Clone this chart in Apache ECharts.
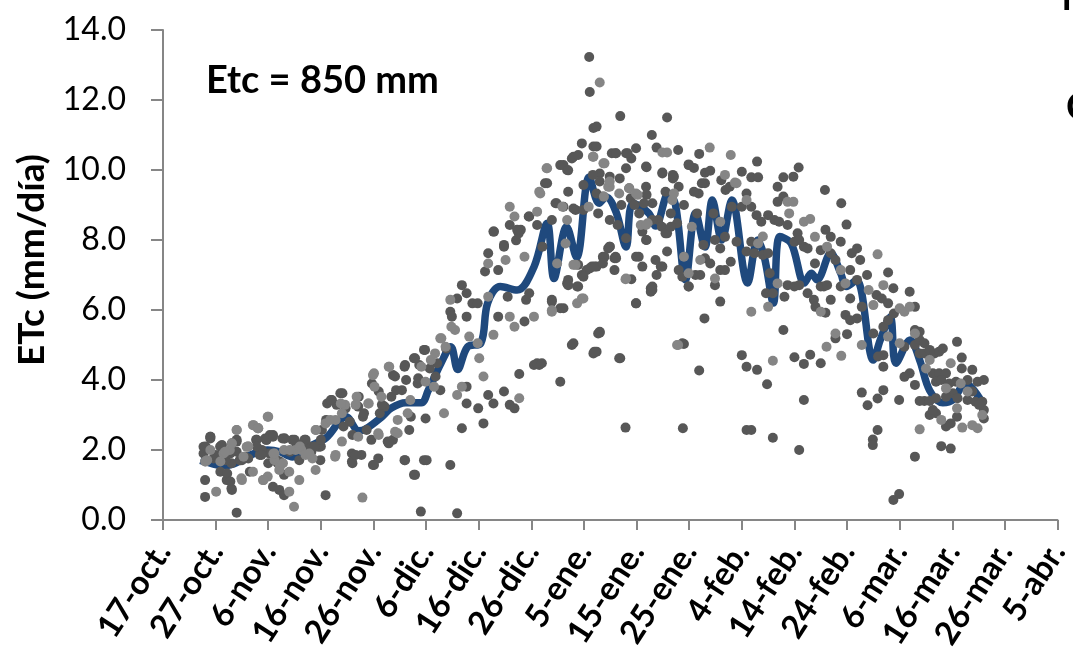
<!DOCTYPE html>
<html>
<head>
<meta charset="utf-8">
<title>ETc</title>
<script src="https://cdn.jsdelivr.net/npm/echarts@6/dist/echarts.min.js"></script>
<style>
html, body { margin: 0; padding: 0; background: #fff; }
#chart { width: 1073px; height: 657px; }
</style>
</head>
<body>
<div id="chart"></div>
<script>
// dia 0 = 17-oct., un tick cada 10 dias
var tickLabels = ["17-oct.", "27-oct.", "6-nov.", "16-nov.", "26-nov.", "6-dic.", "16-dic.", "26-dic.", "5-ene.",
    "15-ene.", "25-ene.", "4-feb.", "14-feb.", "24-feb.", "6-mar.", "16-mar.", "26-mar.", "5-abr."];

// ETc media (linea azul) [dia, mm/dia]
var meanEtc = [[7.1, 1.7], [9.6, 1.6], [11.3, 1.55], [13.4, 1.6], [16.5, 1.85], [19.9, 2.0], [22.2, 1.95], [24.6, 1.8],
    [27.8, 2.1], [31.0, 2.35], [34.8, 2.95], [37.2, 2.55], [38.5, 2.6], [41.6, 2.95], [43.4, 3.2], [46.1, 3.35],
    [49.1, 3.35], [50.4, 3.7], [52.8, 4.47], [54.7, 4.95], [56.0, 4.3], [57.9, 4.95], [60.4, 5.05], [61.7, 6.2],
    [64.1, 6.67], [67.3, 6.57], [70.5, 7.23], [73.0, 8.48], [74.3, 6.9], [76.7, 8.38], [78.6, 7.5], [81.0, 9.8],
    [82.9, 9.05], [84.2, 9.23], [86.1, 8.8], [88.0, 7.8], [89.3, 9.05], [92.3, 8.77], [93.6, 8.4], [96.1, 9.34],
    [97.4, 9.0], [99.3, 6.86], [101.2, 8.77], [103.0, 7.8], [104.4, 9.14], [106.2, 8.0], [108.1, 9.14], [111.1, 6.77],
    [113.0, 8.0], [114.3, 7.5], [116.0, 6.2], [117.2, 8.1], [119.4, 7.9], [121.9, 6.77], [123.2, 7.05], [124.3, 6.86],
    [126.9, 7.62], [128.8, 7.05], [129.9, 6.67], [131.8, 6.86], [135.0, 4.57], [136.3, 5.14], [138.2, 5.8], [139.3, 4.48],
    [142.0, 5.14], [143.8, 4.57], [145.7, 3.7], [148.2, 3.35], [150.1, 3.43], [152.5, 3.9], [155.7, 3.35]];

// ETc diaria, serie gris claro
var lightEtc = [[10.1, 0.81], [14.9, 1.19], [8.0, 1.67], [9.0, 2.0], [10.9, 1.67], [12.7, 2.0], [14.0, 2.57], [15.9, 2.09],
    [17.1, 2.71], [18.0, 2.62], [17.1, 1.38], [19.0, 1.14], [19.9, 1.24], [19.9, 2.95], [21.2, 1.71], [24.0, 0.81],
    [22.1, 1.43], [24.0, 1.38], [23.0, 2.0], [24.9, 0.38], [25.9, 1.14], [25.2, 2.0], [27.1, 1.86], [28.4, 1.76],
    [29.0, 1.43], [29.0, 2.57], [30.9, 2.76], [31.8, 2.86], [32.7, 1.81], [34.0, 3.05], [34.6, 3.29], [34.0, 2.24],
    [36.8, 3.52], [37.1, 2.38], [37.9, 0.64], [39.0, 3.33], [39.9, 4.14], [40.2, 3.81], [40.9, 2.48], [41.5, 3.52],
    [43.0, 4.38], [44.6, 2.86], [44.6, 2.48], [46.5, 3.05], [49.9, 3.95], [50.9, 4.57], [51.5, 3.81], [52.7, 5.19],
    [53.4, 3.05], [53.7, 4.95], [54.6, 6.29], [55.5, 5.43], [55.9, 3.57], [56.8, 3.81], [58.2, 5.24], [59.8, 5.05],
    [60.1, 4.62], [60.9, 4.1], [61.8, 7.33], [61.8, 6.38], [62.8, 5.29], [65.1, 7.43], [65.9, 8.95], [65.9, 5.81],
    [66.8, 5.52], [66.8, 8.67], [67.7, 3.48], [68.7, 7.52], [70.5, 5.81], [71.1, 8.81], [71.5, 9.38], [72.9, 10.05],
    [73.9, 5.99], [74.9, 7.33], [75.9, 8.95], [76.5, 7.9], [76.8, 8.57], [78.4, 7.29], [78.7, 6.19], [79.6, 6.33],
    [80.9, 8.95], [81.8, 10.38], [83.7, 10.19], [84.6, 9.52],
    [83.0, 12.5], [94.9, 10.5], [95.8, 10.5], [103.9, 10.64], [107.9, 10.43], [106.8, 9.86], [108.7, 9.64], [83.9, 10.19],
    [84.9, 9.52], [83.8, 9.24], [88.6, 9.48], [90.2, 9.29], [90.8, 8.43], [92.1, 8.48], [96.8, 9.14], [87.9, 6.88],
    [99.9, 7.05], [99.0, 7.52], [100.5, 8.38], [102.1, 7.43], [105.9, 8.52], [104.9, 6.9], [97.9, 5.0], [109.0, 9.62],
    [110.9, 9.14], [111.8, 5.95], [113.1, 7.9], [114.0, 8.1], [115.0, 6.09], [116.8, 6.76], [115.9, 4.55], [118.7, 9.09],
    [119.8, 9.09], [119.0, 8.76], [121.8, 8.52], [123.0, 8.6], [123.9, 8.09], [126.2, 7.81], [128.8, 7.14], [125.0, 5.95],
    [129.7, 6.76], [134.1, 6.57], [135.8, 7.59], [136.9, 6.71], [135.0, 6.14], [132.8, 5.0], [127.8, 5.33], [126.1, 4.95],
    [128.9, 4.69], [137.8, 5.24], [140.0, 6.05], [140.9, 5.95], [141.9, 6.09], [140.0, 5.05], [142.9, 5.33], [145.7, 4.57],
    [145.0, 4.33], [149.7, 4.48], [151.6, 3.9], [152.9, 3.67], [148.8, 3.76], [155.7, 3.0], [153.8, 2.71], [154.8, 2.62],
    [151.9, 2.64], [150.9, 3.19], [147.9, 2.86], [143.8, 2.59],
    [81.7, 10.38], [73.0, 10.05], [71.7, 9.33], [86.7, 9.33], [89.9, 9.33], [97.1, 9.33], [84.9, 9.67], [91.8, 8.43],
    [88.0, 6.9], [97.7, 5.0], [73.9, 5.95], [78.0, 7.29], [79.9, 6.33],
    [8.4, 1.71], [11.5, 1.9], [14.0, 2.57], [15.3, 1.81], [16.2, 2.1], [17.2, 2.71], [18.1, 2.62], [20.0, 2.95],
    [21.0, 1.9], [22.2, 1.52], [26.3, 2.0], [29.1, 2.57], [32.8, 2.86], [33.8, 3.33], [36.6, 3.29], [39.1, 3.33],
    [40.1, 4.19], [42.9, 4.38], [47.0, 3.43], [49.1, 4.38], [51.7, 4.76], [52.9, 5.19], [54.8, 5.52], [41.0, 2.43],
    [44.1, 2.52], [32.8, 1.86],
    [8.1, 1.67], [11.8, 1.95], [13.1, 2.19], [16.2, 2.1], [18.1, 2.62], [21.2, 1.9], [24.1, 2.0], [26.0, 2.1],
    [27.8, 1.9], [22.8, 1.62], [15.0, 1.14], [19.1, 1.14]];

// ETc diaria, serie gris oscuro
var darkEtc = [[8.0, 0.66], [14.0, 0.21], [8.0, 1.14], [13.0, 0.90], [12.1, 1.14], [10.9, 1.38], [9.0, 2.38], [7.7, 2.09],
    [7.7, 1.9], [9.6, 1.76], [11.2, 2.14], [12.1, 1.9], [13.0, 1.62], [14.0, 2.24], [14.6, 1.71], [16.2, 1.76],
    [17.7, 2.29], [18.4, 1.86], [19.6, 2.29], [20.2, 1.9], [20.9, 2.43], [20.9, 0.95], [22.1, 0.86], [23.0, 0.71],
    [23.0, 1.29], [21.8, 1.62], [22.7, 2.33], [24.6, 2.29], [25.9, 1.71], [27.1, 2.29], [28.0, 2.09], [29.6, 2.09],
    [29.9, 1.71], [30.2, 2.57], [30.9, 0.71], [31.2, 3.33], [32.1, 3.43], [33.0, 3.29], [33.7, 3.62], [34.3, 2.67],
    [35.5, 2.81], [35.9, 1.9], [35.9, 1.67], [37.1, 3.24], [37.7, 1.86], [38.0, 2.95], [38.7, 2.57], [39.6, 2.29],
    [39.9, 1.57], [40.9, 1.76], [41.2, 3.05], [42.1, 3.24], [42.7, 2.24], [43.7, 4.14], [43.7, 2.29], [43.4, 3.52],
    [44.3, 3.71], [45.9, 4.38], [45.9, 1.71], [46.2, 4.0], [46.8, 2.57], [47.1, 2.95], [47.7, 4.62], [47.7, 1.29],
    [48.4, 3.9], [49.0, 0.24], [48.7, 4.43], [49.6, 4.86], [49.6, 1.71], [49.9, 2.9], [51.8, 4.1], [52.1, 4.48],
    [52.7, 3.71], [54.6, 5.95], [54.9, 5.81], [54.6, 1.57], [55.9, 6.33], [55.9, 0.19], [56.8, 2.62], [56.8, 6.71],
    [57.7, 6.48], [57.7, 5.81], [57.7, 3.81], [57.7, 3.33], [58.8, 6.19], [59.8, 6.19], [59.9, 3.19], [60.9, 2.76],
    [61.2, 7.1], [61.8, 7.62], [61.8, 3.57], [62.8, 8.24], [62.8, 3.33], [63.7, 5.81], [63.7, 7.14], [64.8, 7.86],
    [64.8, 3.67], [65.5, 6.38], [65.9, 8.43], [65.9, 3.29], [66.8, 3.19], [67.1, 7.99], [67.7, 4.17], [68.0, 8.29],
    [69.0, 6.29], [68.7, 5.67], [69.6, 8.67], [69.6, 6.48], [70.5, 4.43], [71.5, 4.43], [71.1, 8.43], [72.6, 9.62],
    [72.1, 7.81], [73.9, 6.29], [73.9, 8.57], [74.6, 9.05], [75.5, 10.14], [75.5, 6.05], [75.5, 3.95], [76.8, 10.0],
    [76.8, 6.76], [77.7, 5.0], [77.7, 10.33], [78.4, 8.86], [78.7, 6.67], [79.6, 10.76], [79.6, 7.0], [80.5, 7.14],
    [81.5, 7.24], [81.8, 10.67], [81.8, 4.76], [82.7, 8.76], [82.7, 5.33], [83.7, 7.48], [84.6, 7.76], [85.3, 10.48],
    [85.8, 7.48], [81.0, 13.23], [81.1, 12.23], [81.8, 11.2],
    [86.9, 11.54], [95.8, 11.5], [92.9, 11.0], [82.4, 11.24], [82.4, 10.67], [89.9, 10.62], [93.8, 10.64], [97.9, 10.57],
    [101.9, 10.46], [86.0, 10.48], [88.0, 10.48], [89.0, 10.33], [88.0, 10.05], [91.9, 10.08], [94.9, 9.93], [96.9, 9.86],
    [96.9, 9.76], [99.9, 10.16], [100.9, 10.06], [103.0, 9.92], [104.0, 9.98], [112.9, 10.24], [110.0, 9.95], [111.8, 9.79],
    [113.1, 9.79], [106.1, 9.71], [107.7, 9.52], [106.9, 9.43], [120.8, 10.07], [119.8, 9.81], [117.9, 9.79], [116.8, 9.52],
    [125.8, 9.43], [128.9, 9.05], [129.9, 8.44], [82.4, 9.33], [83.0, 9.9], [84.9, 9.81], [83.6, 9.24], [87.1, 9.0],
    [86.8, 9.76], [88.9, 9.19], [91.8, 9.52], [91.9, 9.29], [93.0, 9.05], [90.5, 8.76], [91.1, 8.24], [91.9, 8.0],
    [94.1, 8.57], [94.8, 8.38], [95.8, 8.19], [96.5, 8.76], [98.0, 9.52], [99.0, 9.0], [97.7, 8.48], [95.8, 7.67],
    [94.6, 7.24], [93.8, 7.0], [92.7, 6.62], [92.7, 6.52], [89.0, 6.88], [89.9, 6.19], [90.4, 7.52], [91.1, 7.24],
    [86.0, 7.52], [85.8, 7.14], [83.6, 7.52], [84.9, 7.81], [82.4, 7.24], [83.0, 5.35], [82.4, 4.81], [86.9, 4.62],
    [87.9, 2.64], [98.0, 7.14], [99.9, 6.67], [101.2, 7.0], [102.1, 7.0], [101.5, 8.76], [101.8, 9.33], [103.0, 9.62],
    [103.0, 7.48], [104.0, 7.33], [102.7, 7.86], [104.9, 8.0], [104.6, 8.76], [105.9, 7.76], [104.9, 6.71], [105.9, 7.14],
    [106.8, 7.14], [105.9, 6.24], [102.9, 5.76], [99.0, 5.03], [101.9, 4.27], [98.8, 2.62], [106.8, 8.09], [108.1, 8.95],
    [109.0, 7.95], [107.9, 7.38], [110.0, 8.95], [110.9, 9.33], [111.8, 8.95], [110.9, 7.67], [111.8, 7.95], [112.8, 8.71],
    [110.0, 4.71], [110.9, 4.38], [112.9, 4.29], [110.9, 2.57], [111.8, 2.57], [112.4, 7.62], [113.7, 8.52], [115.0, 8.71],
    [116.2, 8.57], [117.1, 8.52], [114.0, 7.57], [115.0, 7.62], [115.3, 7.05], [114.6, 6.48], [115.9, 6.48], [118.1, 6.38],
    [117.9, 5.43], [114.8, 3.88], [115.9, 2.35], [116.8, 9.09], [117.9, 9.24], [118.7, 8.43], [120.6, 8.19], [120.0, 7.95],
    [120.9, 8.0], [121.8, 7.81], [122.5, 7.76], [118.7, 6.71], [120.0, 6.67], [120.9, 6.71], [122.5, 6.48], [123.9, 7.33],
    [125.0, 7.71], [125.9, 8.29], [126.9, 8.09], [126.9, 7.62], [128.8, 7.95], [127.8, 7.43], [125.0, 6.67], [125.6, 6.67],
    [126.2, 6.71], [123.7, 6.29], [124.0, 6.09], [125.9, 5.92], [126.9, 6.29], [128.8, 6.67], [130.6, 7.14], [130.9, 7.62],
    [131.9, 7.76], [132.5, 7.43], [131.9, 6.86], [130.6, 6.33], [129.7, 5.86], [130.6, 5.71], [131.9, 5.76], [132.8, 6.09],
    [133.8, 7.0], [135.6, 6.43], [136.6, 6.33], [137.8, 7.07], [138.8, 6.62], [137.8, 6.19], [127.8, 5.19], [130.0, 5.31],
    [125.0, 4.48], [123.0, 4.72], [121.8, 4.46], [120.0, 4.65], [121.8, 3.43], [120.9, 2.0], [132.8, 3.64], [133.9, 3.28],
    [135.8, 3.47], [136.9, 3.71], [135.8, 2.57], [134.9, 2.3], [134.9, 2.14], [138.8, 0.57], [139.9, 0.74], [139.9, 3.43],
    [142.9, 1.81], [135.0, 5.33], [136.9, 5.52], [136.9, 4.71], [136.9, 4.38], [135.9, 4.67], [137.8, 5.71], [138.9, 5.9],
    [142.9, 6.09], [141.9, 6.52], [140.9, 4.95], [142.9, 5.43], [143.8, 5.38], [142.9, 5.0], [143.8, 5.14], [144.7, 5.05],
    [143.8, 4.76], [144.7, 4.76], [145.7, 4.86], [146.6, 4.76], [147.5, 4.81], [148.2, 4.9], [146.3, 4.19], [147.5, 4.19],
    [148.8, 4.19], [146.9, 3.95], [147.9, 4.0], [150.9, 5.09], [151.8, 4.64], [151.8, 4.33], [152.9, 4.0], [153.8, 4.29],
    [154.8, 3.95], [156.0, 4.0], [149.4, 3.9], [150.7, 3.95], [150.1, 3.62], [151.0, 3.48], [152.9, 3.43], [153.8, 3.67],
    [154.4, 3.38], [155.7, 3.38], [156.0, 3.14], [155.1, 3.29], [156.0, 2.9], [150.9, 2.95], [149.7, 2.76], [148.8, 2.67],
    [146.9, 3.05], [145.7, 3.0], [146.3, 3.14], [144.7, 3.4], [143.8, 3.4], [145.7, 3.4], [147.9, 2.11], [149.7, 2.04],
    [146.9, 3.48], [148.8, 3.52], [142.9, 3.86], [141.9, 4.19], [140.9, 4.09],
    [78.0, 10.38], [78.9, 10.43], [86.1, 10.48], [88.3, 10.48], [76.1, 10.14], [77.0, 9.99], [81.7, 9.86], [83.0, 9.67],
    [79.9, 9.57], [77.0, 9.38], [73.0, 9.62], [74.8, 9.05], [76.1, 8.95], [78.0, 8.9], [79.9, 8.86], [88.6, 9.48],
    [89.6, 9.0], [91.4, 9.05], [91.8, 10.1], [94.9, 9.9], [97.1, 9.81], [95.5, 9.38], [99.9, 10.14], [100.9, 9.38],
    [102.4, 9.62], [62.9, 8.24], [64.8, 7.81], [67.6, 8.19], [69.5, 8.67], [67.3, 8.29], [84.9, 8.57], [86.4, 8.43],
    [88.0, 8.05], [93.0, 8.57], [95.5, 8.19], [96.5, 8.38], [89.9, 7.52], [91.8, 8.0], [93.6, 7.43], [94.9, 7.24],
    [98.7, 6.95], [99.9, 6.67], [93.0, 6.67], [93.0, 6.57], [89.9, 6.19], [86.1, 7.48], [83.9, 7.52], [84.9, 7.81],
    [83.0, 5.38], [78.0, 5.05], [82.0, 4.81], [86.7, 4.62], [98.7, 5.05], [71.1, 4.48], [72.0, 4.48], [73.9, 6.24],
    [76.1, 6.05], [78.9, 7.29], [77.0, 6.86], [77.0, 6.71], [79.9, 6.95], [78.9, 6.67], [81.1, 7.19], [82.0, 7.24],
    [83.6, 7.33],
    [8.1, 2.05], [9.0, 2.33], [10.9, 2.1], [11.9, 1.71], [13.1, 2.19], [14.0, 1.95], [15.0, 1.71], [17.8, 2.29],
    [18.8, 2.0], [19.4, 2.33], [20.3, 2.43], [21.6, 1.71], [23.1, 2.33], [24.1, 1.95], [25.3, 2.19], [27.2, 2.14],
    [28.2, 1.95], [30.0, 2.1], [31.0, 2.86], [31.9, 3.43], [34.1, 3.62], [34.7, 3.19], [36.0, 2.43], [37.2, 3.52],
    [38.2, 3.05], [39.7, 3.9], [41.0, 3.67], [41.6, 3.29], [44.1, 4.1], [45.4, 3.71], [46.0, 4.43], [47.9, 4.62],
    [48.5, 4.05], [49.8, 4.86], [50.7, 4.33], [53.8, 4.9], [36.0, 1.62], [40.1, 1.57], [46.0, 1.71], [50.1, 1.71],
    [47.9, 1.29], [42.9, 2.19], [36.6, 1.86],
    [8.1, 2.1], [9.0, 2.38], [10.0, 1.86], [10.9, 2.1], [12.8, 1.9], [14.0, 2.29], [14.7, 1.71], [15.6, 1.81],
    [17.8, 2.1], [18.7, 1.86], [19.7, 2.29], [20.9, 2.38], [22.2, 1.67], [23.1, 2.33], [25.0, 2.29], [26.9, 2.29],
    [28.8, 2.1], [30.0, 2.29], [20.0, 1.62], [16.5, 1.38], [12.2, 1.33], [12.8, 1.1], [13.1, 0.86]];

var option = {
    animation: false,
    backgroundColor: '#ffffff',
    grid: {
        left: 163,
        right: 7,
        top: 30,
        bottom: 137
    },
    xAxis: {
        type: 'value',
        min: 0,
        max: 170,
        interval: 10,
        axisLine: {
            lineStyle: {
                color: '#868686',
                width: 2
            }
        },
        axisTick: {
            length: 10,
            lineStyle: {
                color: '#868686',
                width: 2
            }
        },
        splitLine: {
            show: false
        },
        axisLabel: {
            rotate: 57,
            margin: 26,
            color: '#000',
            fontFamily: 'Lato',
            fontWeight: 'bold',
            fontSize: 33,
            showMaxLabel: true,
            formatter: function (v) {
                return tickLabels[Math.round(v / 10)];
            }
        }
    },
    yAxis: {
        type: 'value',
        min: 0,
        max: 14,
        interval: 2,
        name: 'ETc (mm/día)',
        nameLocation: 'middle',
        nameGap: 112,
        nameTextStyle: {
            color: '#000',
            fontFamily: 'Lato',
            fontWeight: 'bold',
            fontSize: 37,
            padding: [0, 0, 0, 30]
        },
        axisLine: {
            show: true,
            lineStyle: {
                color: '#868686',
                width: 2
            }
        },
        axisTick: {
            show: true,
            length: 12,
            lineStyle: {
                color: '#868686',
                width: 2
            }
        },
        splitLine: {
            show: false
        },
        axisLabel: {
            margin: 37,
            color: '#000',
            fontFamily: 'Lato',
            fontSize: 32,
            formatter: function (v) {
                return v.toFixed(1);
            }
        }
    },
    graphic: [{
        type: 'text',
        left: 206,
        top: 62,
        style: {
            text: 'Etc = 850 mm',
            fill: '#000',
            font: 'bold 38px Lato'
        }
    }, {
        type: 'text',
        x: 1062,
        y: 17,
        style: {
            text: 'l',
            fill: '#000',
            font: 'bold 38px Lato',
            verticalAlign: 'bottom'
        }
    }, {
        type: 'text',
        x: 1066,
        y: 108,
        style: {
            text: 'C',
            fill: '#000',
            font: 'bold 38px Lato',
            verticalAlign: 'middle'
        }
    }],
    series: [{
        name: 'media',
        type: 'line',
        z: 1,
        smooth: 0.35,
        showSymbol: false,
        symbol: 'none',
        lineStyle: {
            color: '#1F497D',
            width: 7.5
        },
        data: meanEtc
    }, {
        name: 'oscuro',
        type: 'scatter',
        z: 2,
        symbolSize: 10,
        itemStyle: {
            color: '#575757',
            opacity: 1
        },
        data: darkEtc
    }, {
        name: 'claro',
        type: 'scatter',
        z: 3,
        symbolSize: 10,
        itemStyle: {
            color: '#858585',
            opacity: 1
        },
        data: lightEtc
    }]
};

var myChart = echarts.init(document.getElementById('chart'));
myChart.setOption(option);
</script>
</body>
</html>
